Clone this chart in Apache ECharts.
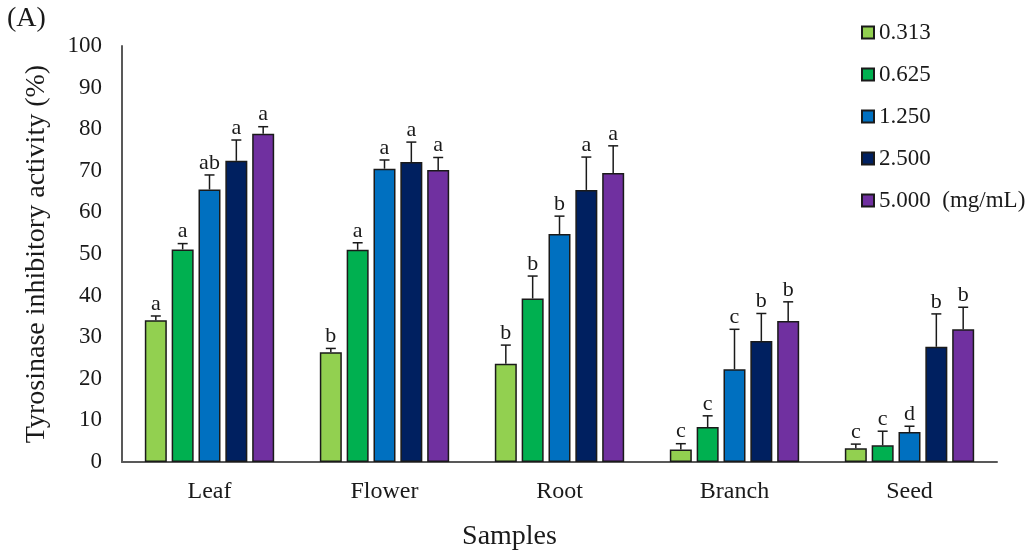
<!DOCTYPE html>
<html>
<head>
<meta charset="utf-8">
<script src="https://cdn.jsdelivr.net/npm/echarts@6/dist/echarts.min.js"></script>
<style>
	html, body { margin: 0; padding: 0; background: #fff; }
	#chart { width: 1035px; height: 556px; }
</style>
</head>
<body>
<div id="chart"></div>
<script>
var samples = ['Leaf', 'Flower', 'Root', 'Branch', 'Seed'];
var concNames = ['0.313', '0.625', '1.250', '2.500', '5.000  (mg/mL)'];
var colors = ['#92d050', '#00b050', '#0070c0', '#002060', '#7030a0'];

// mean values per concentration (one entry per sample)
var val_0313 = [34.1, 26.4, 23.6, 3.0, 3.3];
var val_0625 = [51.1, 51.0, 39.3, 8.4, 4.0];
var val_1250 = [65.5, 70.5, 54.8, 22.3, 7.2];
var val_2500 = [72.4, 72.1, 65.4, 29.1, 27.7];
var val_5000 = [78.9, 70.2, 69.5, 33.9, 31.9];

// error bar (SD) per concentration
var err_0313 = [1.0, 0.9, 4.5, 1.4, 1.0];
var err_0625 = [1.4, 1.7, 5.4, 2.7, 3.4];
var err_1250 = [3.5, 2.1, 4.3, 9.6, 1.4];
var err_2500 = [5.0, 4.8, 7.9, 6.6, 7.9];
var err_5000 = [1.7, 3.0, 6.5, 4.6, 5.3];

// significance letters
var let_0313 = ['a', 'b', 'b', 'c', 'c'];
var let_0625 = ['a', 'a', 'b', 'c', 'c'];
var let_1250 = ['ab', 'a', 'b', 'c', 'd'];
var let_2500 = ['a', 'a', 'a', 'b', 'b'];
var let_5000 = ['a', 'a', 'a', 'b', 'b'];

var yTicks = [0, 100, 10];

var values = [val_0313, val_0625, val_1250, val_2500, val_5000];
var errors = [err_0313, err_0625, err_1250, err_2500, err_5000];
var letters = [let_0313, let_0625, let_1250, let_2500, let_5000];

var font = '"Liberation Serif", "Times New Roman", serif';
var barW = 22;
var gapRatio = 0.22;
var step = barW * (1 + gapRatio);

var chart = echarts.init(document.getElementById('chart'));

var series = [];
values.forEach(function(v, i) {
	series.push({
		name: concNames[i],
		type: 'bar',
		barWidth: barW,
		barGap: (gapRatio * 100) + '%',
		data: v,
		itemStyle: {
			color: colors[i],
			borderColor: '#1a1a1a',
			borderWidth: 1.5
		}
	});
});
values.forEach(function(v, i) {
	var d = v.map(function(y, k) {
		return [k, y, errors[i][k], letters[i][k]];
	});
	series.push({
		name: 'err' + i,
		type: 'custom',
		data: d,
		z: 5,
		renderItem: function(params, api) {
			var off = (i - 2) * step;
			var p = api.coord([api.value(0), api.value(1)]);
			var t = api.coord([api.value(0), api.value(1) + api.value(2)]);
			var x = p[0] + off;
			return {
				type: 'group',
				children: [{
					type: 'line',
					shape: { x1: x, y1: p[1], x2: x, y2: t[1] },
					style: { stroke: '#1a1a1a', lineWidth: 1.5 }
				}, {
					type: 'line',
					shape: { x1: x - 5, y1: t[1], x2: x + 5, y2: t[1] },
					style: { stroke: '#1a1a1a', lineWidth: 1.5 }
				}, {
					type: 'text',
					style: {
						x: x,
						y: t[1] - 1,
						text: d[params.dataIndex][3],
						fill: '#1a1a1a',
						font: '22px ' + font,
						align: 'center',
						verticalAlign: 'bottom'
					}
				}]
			};
		}
	});
});

var option = {
	animation: false,
	backgroundColor: '#fff',
	textStyle: { fontFamily: font },
	grid: {
		left: 122,
		right: 38,
		top: 46,
		bottom: 94
	},
	legend: {
		data: concNames,
		orient: 'vertical',
		left: 856,
		top: 16,
		itemWidth: 12,
		itemHeight: 12,
		itemGap: 19,
		icon: 'rect',
		textStyle: { fontFamily: font, fontSize: 23, color: '#1a1a1a' }
	},
	graphic: [{
		type: 'text',
		left: 7,
		top: 5,
		style: { text: '(A)', font: '28px ' + font, fill: '#1a1a1a' }
	}],
	xAxis: {
		type: 'category',
		data: samples,
		name: 'Samples',
		nameLocation: 'middle',
		nameGap: 61,
		nameTextStyle: { fontSize: 28, color: '#1a1a1a', padding: [0, 100, 0, 0] },
		axisLine: { lineStyle: { color: '#595959', width: 2 } },
		axisTick: { show: false },
		axisLabel: { fontSize: 24, color: '#1a1a1a', margin: 18 }
	},
	yAxis: {
		type: 'value',
		min: yTicks[0],
		max: yTicks[1],
		interval: yTicks[2],
		name: 'Tyrosinase inhibitory activity (%)',
		nameLocation: 'middle',
		nameGap: 71,
		nameTextStyle: { fontSize: 28, color: '#1a1a1a' },
		axisLine: { show: true, lineStyle: { color: '#595959', width: 2 } },
		axisTick: { show: false },
		splitLine: { show: false },
		axisLabel: { fontSize: 23, color: '#1a1a1a', margin: 20 }
	},
	series: series
};
chart.setOption(option);
</script>
</body>
</html>
